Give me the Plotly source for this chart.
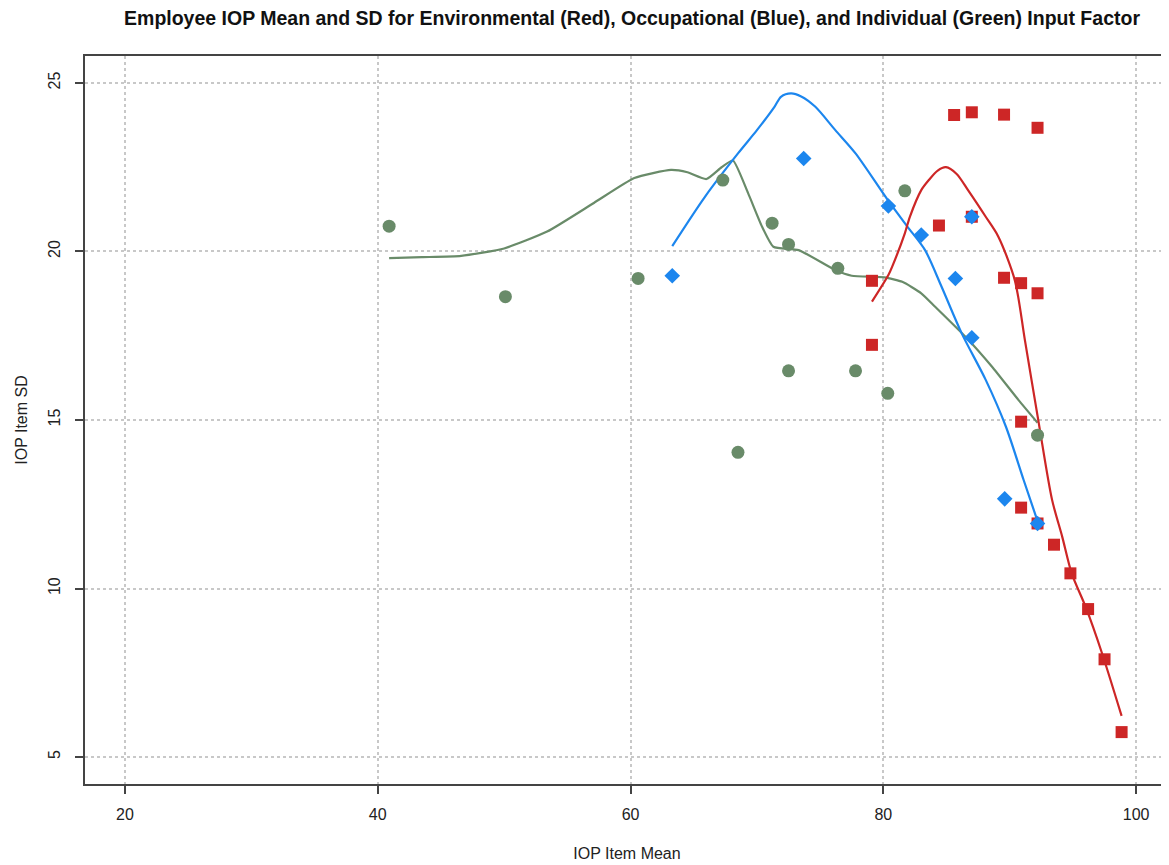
import plotly.graph_objects as go

# ---- Data ----
env_x = [79.1, 79.1, 84.4, 85.6, 87.0, 87.0, 89.55, 89.55, 90.9, 90.9, 90.9, 92.2, 92.2, 92.2, 93.5, 94.8, 96.2, 97.5, 98.85]
env_y = [19.13, 17.23, 20.77, 24.05, 24.13, 21.03, 24.06, 19.22, 19.06, 14.95, 12.40, 23.67, 18.76, 11.93, 11.30, 10.45, 9.39, 7.90, 5.74]

occ_x = [63.3, 73.7, 80.4, 83.0, 85.7, 87.0, 87.0, 89.6, 92.2]
occ_y = [19.28, 22.76, 21.35, 20.49, 19.20, 21.03, 17.44, 12.66, 11.93]

ind_x = [40.9, 50.1, 60.6, 67.3, 68.5, 71.2, 72.5, 72.5, 76.4, 77.8, 80.35, 81.7, 92.2]
ind_y = [20.75, 18.66, 19.20, 22.12, 14.04, 20.84, 20.21, 16.46, 19.50, 16.46, 15.79, 21.80, 14.55]

# smoothed trend lines (traced)
env_fit_x = [79.1, 80.4, 80.7, 81.7, 82.1, 83.0, 83.6, 84.3, 84.95, 85.8, 86.7, 88.1, 89.1, 90.4, 91.2, 92.3, 93.35, 94.15, 94.9, 96.0, 97.3, 98.85]
env_fit_y = [18.51, 19.30, 19.55, 20.54, 21.03, 21.82, 22.12, 22.40, 22.50, 22.30, 21.82, 21.03, 20.44, 19.15, 17.37, 14.90, 12.63, 11.54, 10.45, 9.46, 8.08, 6.22]

occ_fit_x = [63.3, 65.9, 68.5, 70.0, 71.4, 71.9, 72.7, 73.5, 74.6, 76.2, 77.8, 80.4, 81.9, 83.3, 84.6, 86.2, 88.1, 89.7, 91.1, 92.2]
occ_fit_y = [20.16, 21.63, 22.91, 23.60, 24.30, 24.59, 24.69, 24.60, 24.30, 23.60, 22.91, 21.50, 20.74, 20.04, 18.96, 17.57, 16.19, 14.80, 13.22, 12.00]

ind_fit_x = [40.9, 43.5, 46.6, 50.0, 53.4, 57.1, 60.3, 63.2, 64.5, 66.0, 67.2, 68.1, 69.3, 70.4, 71.3, 73.3, 76.2, 77.5, 80.1, 81.5, 83.0, 84.1, 86.5, 88.6, 90.7, 92.2]
ind_fit_y = [19.80, 19.83, 19.87, 20.09, 20.59, 21.44, 22.18, 22.42, 22.35, 22.15, 22.50, 22.70, 21.73, 20.74, 20.14, 20.04, 19.45, 19.28, 19.23, 19.10, 18.76, 18.36, 17.47, 16.58, 15.59, 14.92]

x_ticks = [20, 40, 60, 80, 100]
y_ticks = [5, 10, 15, 20, 25]

RED = "#CD2626"
BLUE = "#1C86EE"
GREEN = "#698B69"

fig = go.Figure()
fig.add_trace(go.Scatter(x=ind_fit_x, y=ind_fit_y, mode="lines",
                         line=dict(color=GREEN, width=2.2, shape="spline", smoothing=0.5), hoverinfo="skip"))
fig.add_trace(go.Scatter(x=occ_fit_x, y=occ_fit_y, mode="lines",
                         line=dict(color=BLUE, width=2.2, shape="spline", smoothing=0.8), hoverinfo="skip"))
fig.add_trace(go.Scatter(x=env_fit_x, y=env_fit_y, mode="lines",
                         line=dict(color=RED, width=2.2, shape="spline", smoothing=0.8), hoverinfo="skip"))
fig.add_trace(go.Scatter(x=ind_x, y=ind_y, mode="markers", marker=dict(symbol="circle", size=13, color=GREEN), name="Individual"))
fig.add_trace(go.Scatter(x=env_x, y=env_y, mode="markers", marker=dict(symbol="square", size=12, color=RED), name="Environmental"))
fig.add_trace(go.Scatter(x=occ_x, y=occ_y, mode="markers", marker=dict(symbol="diamond", size=12, color=BLUE), name="Occupational"))

FONT = "Liberation Sans, Arial, sans-serif"

# the page body has an 8px default margin, so the figure is sized to fit the window
W, H = 1161, 857

fig.update_layout(
    width=W, height=H,
    margin=dict(l=77, r=0, t=48, b=81),
    paper_bgcolor="white", plot_bgcolor="white",
    showlegend=False,
    font=dict(family=FONT, color="#222", size=16),
    title=dict(
        text="<b>Employee IOP Mean and SD for Environmental (Red), Occupational (Blue), and Individual (Green) Input Factor</b>",
        x=(632 - 8) / W, xanchor="center", y=1 - 10 / H, yanchor="middle",
        font=dict(family=FONT, size=19.5, color="#111"),
    ),
    xaxis=dict(
        range=[16.84, 102.6], tickvals=x_ticks, ticktext=[str(v) for v in x_ticks],
        showgrid=True, gridcolor="#c8c8c8", griddash="dot", gridwidth=1.5,
        zeroline=False, showline=True, mirror=True, linecolor="#444", linewidth=1.5,
        ticks="outside", ticklen=8, tickcolor="#444", tickwidth=1.5,
        ticklabelstandoff=7, tickfont=dict(size=16, color="#222"),
        automargin=False,
        title=dict(text="IOP Item Mean", standoff=26, font=dict(size=16, color="#222")),
    ),
    yaxis=dict(
        range=[4.2, 25.8], tickvals=y_ticks, ticktext=[str(v) for v in y_ticks],
        showgrid=True, gridcolor="#c8c8c8", griddash="dot", gridwidth=1.5,
        zeroline=False, showline=True, mirror=True, linecolor="#444", linewidth=1.5,
        ticks="outside", ticklen=8, tickcolor="#444", tickwidth=1.5,
        tickangle=-90, ticklabelstandoff=9, tickfont=dict(size=16, color="#222"),
        automargin=False,
        title=dict(text="IOP Item SD", standoff=14, font=dict(size=16, color="#222")),
    ),
)

fig.write_html("out.html")
